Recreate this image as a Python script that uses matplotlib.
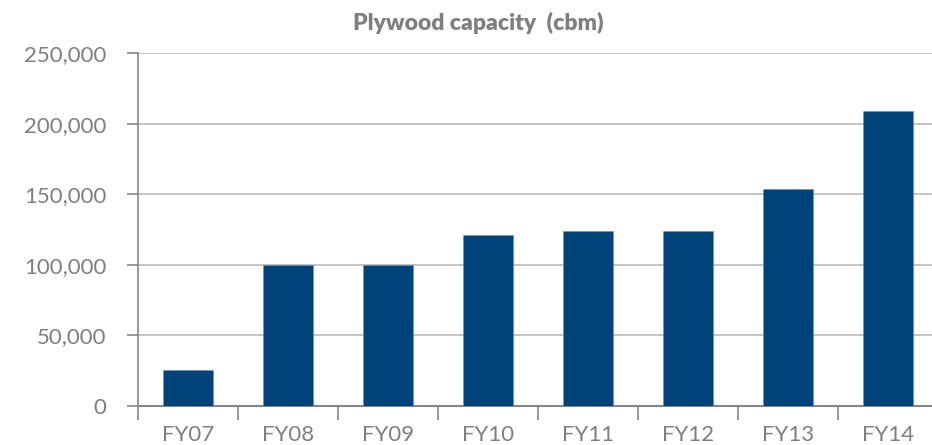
#! /usr/bin/env python3


# import libraries
import numpy as np
import matplotlib
matplotlib.use("Agg")
import matplotlib.pyplot as plt
from matplotlib.ticker import FuncFormatter, FixedLocator


# data
lst_year = ["FY07", "FY08", "FY09", "FY10", "FY11", "FY12", "FY13", "FY14"]
lst_capacity = [25000, 100000, 100000, 121000, 124000, 124000, 154000, 209000]
lst_ytick = [0, 50000, 100000, 150000, 200000, 250000]


# set matplotlib parameters
plt.rcParams["font.family"] = ["Lato", "DejaVu Sans"]
plt.rcParams["figure.dpi"] = 100
plt.rcParams["figure.facecolor"] = "white"

col_text = "#7f7f7f"
col_grid = "#bfbfbf"
col_axis = "#868686"
col_bar = "#00437b"


# setup figure
fig = plt.figure(figsize=(9.32, 4.45))
ax = fig.add_axes([0.1484, 0.0883, 0.8584, 0.7919])

pos = np.arange(len(lst_year))
ax.bar(pos, lst_capacity, width=0.5, color=col_bar, edgecolor="#6f8fb5", linewidth=0.4, zorder=3)

ax.set_xlim(-0.5, len(lst_year) - 0.5)
ax.set_ylim(0, 250000)

# y axis
ax.set_yticks(lst_ytick)
ax.yaxis.set_major_formatter(FuncFormatter(lambda v, p: "{:,.0f}".format(v)))
ax.yaxis.grid(True, color=col_grid, linewidth=1.3, zorder=0)
ax.tick_params(axis="y", length=8, width=1.2, color=col_axis, pad=15, labelsize=16, labelcolor=col_text)

# x axis: labels at centres, ticks at category boundaries
ax.set_xticks(pos)
ax.set_xticklabels(lst_year)
ax.tick_params(axis="x", which="major", length=0, pad=14, labelsize=16, labelcolor=col_text)
ax.xaxis.set_minor_locator(FixedLocator(np.arange(len(lst_year) + 1) - 0.5))
ax.tick_params(axis="x", which="minor", length=10, width=1.2, color=col_axis)

for s in ["top", "right"]:
    ax.spines[s].set_visible(False)
ax.spines["left"].set_color(col_axis)
ax.spines["left"].set_linewidth(1.2)
ax.spines["bottom"].set_color(col_axis)
ax.spines["bottom"].set_linewidth(1.5)
ax.set_axisbelow(True)

fig.text(0.513, 0.948, "Plywood capacity  (cbm)", ha="center", va="center",
         fontsize=16.5, fontweight="heavy", color=col_text)

fig.savefig("out.png", dpi=100)
